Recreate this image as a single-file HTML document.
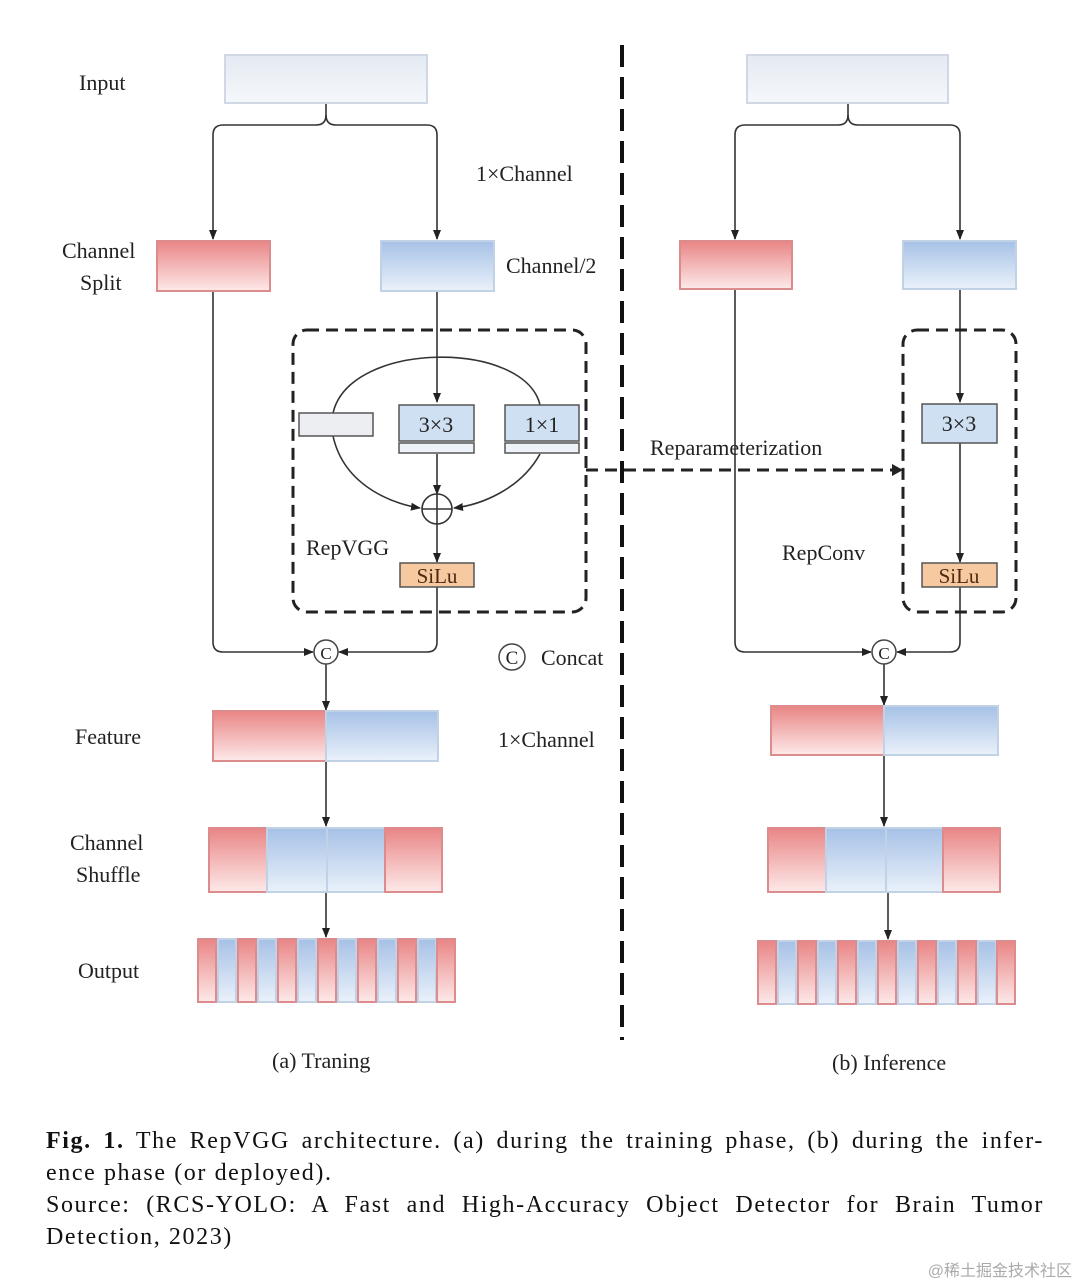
<!DOCTYPE html>
<html><head><meta charset="utf-8"><style>
body{margin:0;background:#fff;width:1080px;height:1284px;overflow:hidden;position:relative;font-family:"Liberation Serif",serif}
.cap{position:absolute;left:46px;width:998px;font-size:24px;letter-spacing:1.6px;line-height:32px;color:#111;top:1125px}
.cap div{white-space:nowrap}
.j{text-align:justify;text-align-last:justify;white-space:normal!important}
.wm{position:absolute;right:8px;top:1257px;font-size:16px;color:#aaa;font-family:"Liberation Sans","Noto Sans CJK SC",sans-serif}
</style></head><body>
<svg width="1080" height="1110" style="position:absolute;left:0;top:0" font-family="Liberation Serif, serif">
<defs>
<linearGradient id="r" x1="0" y1="0" x2="0" y2="1"><stop offset="0" stop-color="#e98585"/><stop offset="1" stop-color="#fde9e9"/></linearGradient>
<linearGradient id="b" x1="0" y1="0" x2="0" y2="1"><stop offset="0" stop-color="#a6c1e6"/><stop offset="1" stop-color="#eaf1fa"/></linearGradient>
<linearGradient id="g" x1="0" y1="0" x2="0" y2="1"><stop offset="0" stop-color="#e4eaf2"/><stop offset="1" stop-color="#f5f8fb"/></linearGradient>
<marker id="a" markerWidth="10" markerHeight="10" refX="9" refY="5" orient="auto" markerUnits="userSpaceOnUse"><path d="M0,1 L10,5 L0,9z" fill="#222"/></marker>
</defs>
<g stroke="#333" stroke-width="1.6" fill="none">
<path d="M326,103 v12 q0,10 -10,10 h-93 q-10,0 -10,10 v104" marker-end="url(#a)"/>
<path d="M326,115 q0,10 10,10 h91 q10,0 10,10 v104" marker-end="url(#a)"/>
<path d="M437,291 v111" marker-end="url(#a)"/>
<path d="M437,454 v40" marker-end="url(#a)"/>
<path d="M437,524 v38" marker-end="url(#a)"/>
<path d="M333,413 C350,340 525,340 540,405"/>
<path d="M333,436 C345,490 400,505 420,508" marker-end="url(#a)"/>
<path d="M540,454 C520,490 480,505 454,508" marker-end="url(#a)"/>
<path d="M213,291 v351 q0,10 10,10 h90" marker-end="url(#a)"/>
<path d="M437,587 v55 q0,10 -10,10 h-88" marker-end="url(#a)"/>
<path d="M326,664 v46" marker-end="url(#a)"/>
<path d="M326,761 v65" marker-end="url(#a)"/>
<path d="M326,892 v45" marker-end="url(#a)"/>
<path d="M848,103 v12 q0,10 -10,10 h-93 q-10,0 -10,10 v104" marker-end="url(#a)"/>
<path d="M848,115 q0,10 10,10 h92 q10,0 10,10 v104" marker-end="url(#a)"/>
<path d="M960,289 v113" marker-end="url(#a)"/>
<path d="M960,443 v119" marker-end="url(#a)"/>
<path d="M735,289 v353 q0,10 10,10 h126" marker-end="url(#a)"/>
<path d="M960,587 v55 q0,10 -10,10 h-53" marker-end="url(#a)"/>
<path d="M884,664 v41" marker-end="url(#a)"/>
<path d="M884,755 v71" marker-end="url(#a)"/>
<path d="M888,892 v47" marker-end="url(#a)"/>
<circle cx="437" cy="509" r="15"/>
<path d="M422,509 h30 M437,494 v30"/>
</g>
<g stroke="#222" stroke-width="3" fill="none" stroke-dasharray="12,7">
<rect x="293" y="330" width="293" height="282" rx="14"/>
<rect x="903" y="330" width="113" height="282" rx="14"/>
<path d="M586,470 H896"/>
</g>
<path d="M892,464 L903,470 L892,476z" fill="#222"/>
<path d="M622,45 V1040" stroke="#111" stroke-width="4" stroke-dasharray="22,10"/>
<g stroke-width="2">
<rect x="225" y="55" width="202" height="48" fill="url(#g)" stroke="#cfd8e4"/>
<rect x="747" y="55" width="201" height="48" fill="url(#g)" stroke="#cfd8e4"/>
<rect x="157" y="241" width="113" height="50" fill="url(#r)" stroke="#dc8c8c"/>
<rect x="381" y="241" width="113" height="50" fill="url(#b)" stroke="#c2d2e6"/>
<rect x="680" y="241" width="112" height="48" fill="url(#r)" stroke="#dc8c8c"/>
<rect x="903" y="241" width="113" height="48" fill="url(#b)" stroke="#c2d2e6"/>
<rect x="213" y="711" width="113" height="50" fill="url(#r)" stroke="#dc8c8c"/>
<rect x="326" y="711" width="112" height="50" fill="url(#b)" stroke="#c2d2e6"/>
<rect x="771" y="706" width="113" height="49" fill="url(#r)" stroke="#dc8c8c"/>
<rect x="884" y="706" width="114" height="49" fill="url(#b)" stroke="#c2d2e6"/>
<rect x="209" y="828" width="58" height="64" fill="url(#r)" stroke="#dc8c8c"/>
<rect x="267" y="828" width="60" height="64" fill="url(#b)" stroke="#c2d2e6"/>
<rect x="327" y="828" width="58" height="64" fill="url(#b)" stroke="#c2d2e6"/>
<rect x="385" y="828" width="57" height="64" fill="url(#r)" stroke="#dc8c8c"/>
<rect x="768" y="828" width="58" height="64" fill="url(#r)" stroke="#dc8c8c"/>
<rect x="826" y="828" width="60" height="64" fill="url(#b)" stroke="#c2d2e6"/>
<rect x="886" y="828" width="57" height="64" fill="url(#b)" stroke="#c2d2e6"/>
<rect x="943" y="828" width="57" height="64" fill="url(#r)" stroke="#dc8c8c"/>
</g>
<g stroke-width="2">
<rect x="198" y="939" width="18" height="63" fill="url(#r)" stroke="#dc8c8c"/><rect x="218" y="939" width="18" height="63" fill="url(#b)" stroke="#c2d2e6"/>
<rect x="238" y="939" width="18" height="63" fill="url(#r)" stroke="#dc8c8c"/><rect x="258" y="939" width="18" height="63" fill="url(#b)" stroke="#c2d2e6"/>
<rect x="278" y="939" width="18" height="63" fill="url(#r)" stroke="#dc8c8c"/><rect x="298" y="939" width="18" height="63" fill="url(#b)" stroke="#c2d2e6"/>
<rect x="318" y="939" width="18" height="63" fill="url(#r)" stroke="#dc8c8c"/><rect x="338" y="939" width="18" height="63" fill="url(#b)" stroke="#c2d2e6"/>
<rect x="358" y="939" width="18" height="63" fill="url(#r)" stroke="#dc8c8c"/><rect x="378" y="939" width="18" height="63" fill="url(#b)" stroke="#c2d2e6"/>
<rect x="398" y="939" width="18" height="63" fill="url(#r)" stroke="#dc8c8c"/><rect x="418" y="939" width="18" height="63" fill="url(#b)" stroke="#c2d2e6"/>
<rect x="437" y="939" width="18" height="63" fill="url(#r)" stroke="#dc8c8c"/>
<rect x="758" y="941" width="18" height="63" fill="url(#r)" stroke="#dc8c8c"/><rect x="778" y="941" width="18" height="63" fill="url(#b)" stroke="#c2d2e6"/>
<rect x="798" y="941" width="18" height="63" fill="url(#r)" stroke="#dc8c8c"/><rect x="818" y="941" width="18" height="63" fill="url(#b)" stroke="#c2d2e6"/>
<rect x="838" y="941" width="18" height="63" fill="url(#r)" stroke="#dc8c8c"/><rect x="858" y="941" width="18" height="63" fill="url(#b)" stroke="#c2d2e6"/>
<rect x="878" y="941" width="18" height="63" fill="url(#r)" stroke="#dc8c8c"/><rect x="898" y="941" width="18" height="63" fill="url(#b)" stroke="#c2d2e6"/>
<rect x="918" y="941" width="18" height="63" fill="url(#r)" stroke="#dc8c8c"/><rect x="938" y="941" width="18" height="63" fill="url(#b)" stroke="#c2d2e6"/>
<rect x="958" y="941" width="18" height="63" fill="url(#r)" stroke="#dc8c8c"/><rect x="978" y="941" width="18" height="63" fill="url(#b)" stroke="#c2d2e6"/>
<rect x="997" y="941" width="18" height="63" fill="url(#r)" stroke="#dc8c8c"/>
</g>
<g stroke="#555" stroke-width="1.5">
<rect x="299" y="413" width="74" height="23" fill="#eceef1"/>
<rect x="399" y="405" width="75" height="36" fill="#cfe0f3"/><rect x="399" y="443" width="75" height="10" fill="#eef3f9"/>
<rect x="505" y="405" width="74" height="36" fill="#cfe0f3"/><rect x="505" y="443" width="74" height="10" fill="#eef3f9"/>
<rect x="922" y="404" width="75" height="39" fill="#cfe0f3"/>
<rect x="400" y="563" width="74" height="24" fill="#f6c9a0"/>
<rect x="922" y="563" width="75" height="24" fill="#f6c9a0"/>
</g>
<g fill="none" stroke="#444" stroke-width="1.5">
<circle cx="326" cy="652" r="12" fill="#fff"/><circle cx="884" cy="652" r="12" fill="#fff"/><circle cx="512" cy="657" r="13"/>
</g>
<g fill="#222" font-size="22">
<text x="326" y="659" text-anchor="middle" font-size="17">C</text>
<text x="884" y="659" text-anchor="middle" font-size="17">C</text>
<text x="512" y="664" text-anchor="middle" font-size="19">C</text>
<text x="436" y="432" text-anchor="middle">3×3</text>
<text x="542" y="432" text-anchor="middle">1×1</text>
<text x="959" y="431" text-anchor="middle">3×3</text>
<text x="437" y="583" text-anchor="middle" font-size="21" fill="#4a2a10">SiLu</text>
<text x="959" y="583" text-anchor="middle" font-size="21" fill="#4a2a10">SiLu</text>
<text x="79" y="90">Input</text>
<text x="476" y="181">1×Channel</text>
<text x="62" y="258">Channel</text>
<text x="80" y="290">Split</text>
<text x="506" y="273">Channel/2</text>
<text x="650" y="455">Reparameterization</text>
<text x="306" y="555">RepVGG</text>
<text x="782" y="560">RepConv</text>
<text x="541" y="665">Concat</text>
<text x="75" y="744">Feature</text>
<text x="498" y="747">1×Channel</text>
<text x="70" y="850">Channel</text>
<text x="76" y="882">Shuffle</text>
<text x="78" y="978">Output</text>
<text x="272" y="1068">(a) Traning</text>
<text x="832" y="1070">(b) Inference</text>
</g>
</svg>
<div class="cap">
<div class="j"><b>Fig. 1.</b> The RepVGG architecture. (a) during the training phase, (b) during the infer-</div>
<div>ence phase (or deployed).</div>
<div class="j">Source: (RCS-YOLO: A Fast and High-Accuracy Object Detector for Brain Tumor</div>
<div>Detection, 2023)</div>
</div>
<div class="wm">@稀土掘金技术社区</div>
</body></html>
